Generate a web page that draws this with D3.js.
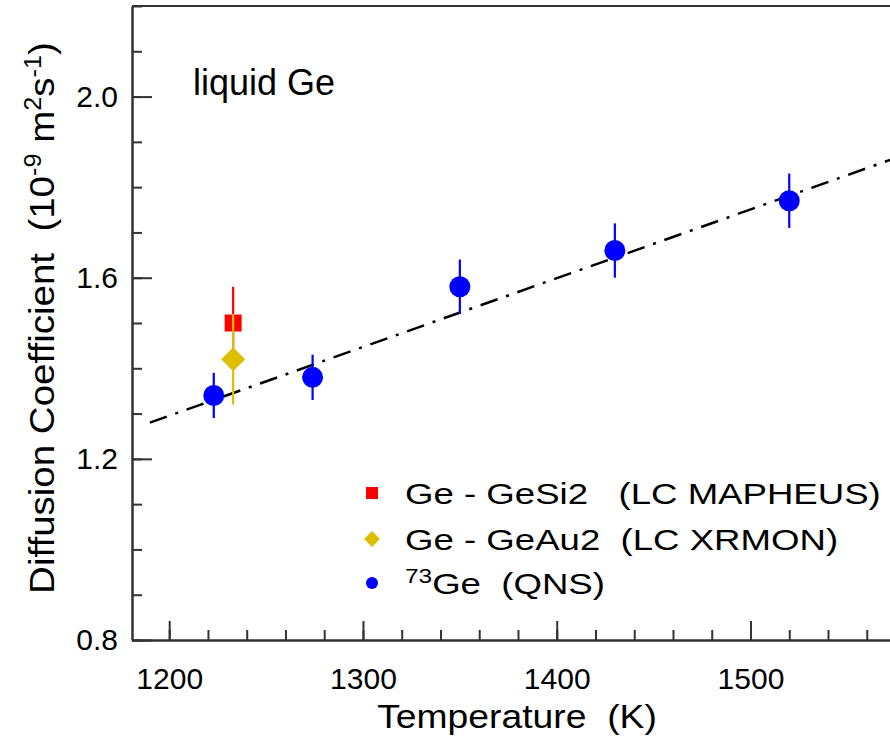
<!DOCTYPE html>
<html>
<head>
<meta charset="utf-8">
<script src="https://cdn.jsdelivr.net/npm/d3@7"></script>
<style>
	body { margin: 0; background: #fff; }
	svg text { font-family: "Liberation Sans", Arial, Helvetica, sans-serif; fill: #000; white-space: pre; }
</style>
</head>
<body>
<svg id="chart"></svg>
<script>
// 73Ge quasielastic neutron scattering
const qnsT = [1223, 1274, 1350, 1430, 1520];
const qnsD = [1.34, 1.38, 1.58, 1.66, 1.77];
const qnsErr = [0.05, 0.05, 0.06, 0.06, 0.06];

// long capillary, MAPHEUS
const mapheusT = [1233];
const mapheusD = [1.50];
const mapheusErr = [0.08];

// long capillary, XRMON
const xrmonT = [1233];
const xrmonD = [1.42];
const xrmonErr = [0.10];

// dash-dot fit line end points
const fitT = [1190, 1572];
const fitD = [1.28, 1.86];

const xTicks = [1200, 1300, 1400, 1500];
const xMinor = d3.range(1200, 1580, 20);
const yTicks = [0.8, 1.2, 1.6, 2.0];
const yMinor = d3.range(8, 23).map(d => d / 10);

const width = 890, height = 738;
const margin = { top: 6, right: 0, bottom: 98, left: 132 };

const svg = d3.select('#chart')
	.attr('width', width)
	.attr('height', height);

const x = d3.scaleLinear()
	.domain([1180.8, 1572]).range([margin.left, width - margin.right]);
const y = d3.scaleLinear()
	.domain([0.8, 2.2]).range([height - margin.bottom, margin.top]);

const axisColor = '#333';

svg.append('clipPath').attr('id', 'plot-clip')
	.append('rect')
	.attr('x', margin.left).attr('y', margin.top)
	.attr('width', width - margin.left - margin.right)
	.attr('height', height - margin.top - margin.bottom);

// axes
svg.append('g')
	.attr('transform', `translate(0,${y(0.8)})`)
	.call(d3.axisBottom(x).tickValues(xTicks).tickSize(-19).tickSizeOuter(0).tickPadding(28).tickFormat(d3.format('d')));
svg.append('g')
	.attr('transform', `translate(0,${y(0.8)})`)
	.call(d3.axisBottom(x).tickValues(xMinor).tickSize(-10).tickSizeOuter(0).tickFormat(''));

svg.append('g')
	.attr('transform', `translate(${x.range()[0]},0)`)
	.call(d3.axisLeft(y).tickValues(yTicks).tickSize(-20).tickSizeOuter(0).tickPadding(14).tickFormat(d3.format('.1f')));
svg.append('g')
	.attr('transform', `translate(${x.range()[0]},0)`)
	.call(d3.axisLeft(y).tickValues(yMinor).tickSize(-10).tickSizeOuter(0).tickFormat(''));

svg.selectAll('.domain, .tick line')
	.attr('stroke', axisColor)
	.attr('stroke-width', 2);
svg.selectAll('.tick text')
	.attr('font-size', 30)
	.attr('fill', '#000');

// top frame
svg.append('line')
	.attr('x1', x.range()[0]).attr('x2', x.range()[1])
	.attr('y1', y(2.2)).attr('y2', y(2.2))
	.attr('stroke', axisColor)
	.attr('stroke-width', 2);

// axis titles (the original lettering is a little wider than Liberation Sans)
svg.append('text')
	.attr('transform', `translate(517,728) scale(1.13,1)`)
	.attr('text-anchor', 'middle')
	.attr('font-size', 33)
	.text('Temperature  (K)');

const yTitle = svg.append('text')
	.attr('transform', `translate(54,318) rotate(-90) scale(1.1,1)`)
	.attr('text-anchor', 'middle')
	.attr('font-size', 35);
yTitle.append('tspan').text('Diffusion Coefficient  (10');
yTitle.append('tspan').attr('dy', -13).attr('font-size', 23).text('-9');
yTitle.append('tspan').attr('dy', 13).text(' m');
yTitle.append('tspan').attr('dy', -13).attr('font-size', 23).text('2');
yTitle.append('tspan').attr('dy', 13).text('s');
yTitle.append('tspan').attr('dy', -13).attr('font-size', 23).text('-1');
yTitle.append('tspan').attr('dy', 13).text(')');

svg.append('text')
	.attr('x', 193).attr('y', 95)
	.attr('font-size', 36)
	.text('liquid Ge');

// fit line
const plot = svg.append('g').attr('clip-path', 'url(#plot-clip)');

plot.append('path')
	.datum(fitT.map((t, i) => [t, fitD[i]]))
	.attr('d', d3.line().x(d => x(d[0])).y(d => y(d[1])))
	.attr('fill', 'none')
	.attr('stroke', '#000')
	.attr('stroke-width', 2.5)
	.attr('stroke-dasharray', '18,9,3,9');

const errorBars = (g, T, D, E, color) => {
	g.selectAll(null)
		.data(T.map((t, i) => ({ t, d: D[i], e: E[i] })))
		.enter()
		.append('line')
		.attr('x1', d => x(d.t)).attr('x2', d => x(d.t))
		.attr('y1', d => y(d.d - d.e)).attr('y2', d => y(d.d + d.e))
		.attr('stroke', color)
		.attr('stroke-width', 2.2);
};

const blue = '#0000ff';
const red = '#ff0000';
const gold = '#dcbf00';

// QNS
errorBars(plot, qnsT, qnsD, qnsErr, blue);
plot.selectAll(null)
	.data(qnsT.map((t, i) => [t, qnsD[i]]))
	.enter()
	.append('circle')
	.attr('cx', d => x(d[0])).attr('cy', d => y(d[1]))
	.attr('r', 10.5)
	.attr('fill', blue);

// MAPHEUS
errorBars(plot, mapheusT, mapheusD, mapheusErr, red);
plot.selectAll(null)
	.data(mapheusT.map((t, i) => [t, mapheusD[i]]))
	.enter()
	.append('rect')
	.attr('x', d => x(d[0]) - 8.5).attr('y', d => y(d[1]) - 8.5)
	.attr('width', 17).attr('height', 17)
	.attr('fill', red);

// XRMON
errorBars(plot, xrmonT, xrmonD, xrmonErr, gold);
plot.selectAll(null)
	.data(xrmonT.map((t, i) => [t, xrmonD[i]]))
	.enter()
	.append('path')
	.attr('transform', d => `translate(${x(d[0])},${y(d[1])})`)
	.attr('d', 'M0,-12L12,0L0,12L-12,0Z')
	.attr('fill', gold);

// legend
const legend = svg.append('g');
const legendRows = [493, 539, 583];

legend.append('rect')
	.attr('x', 366).attr('y', legendRows[0] - 6)
	.attr('width', 12).attr('height', 12)
	.attr('fill', red);
legend.append('path')
	.attr('transform', `translate(372,${legendRows[1]})`)
	.attr('d', 'M0,-8L8,0L0,8L-8,0Z')
	.attr('fill', gold);
legend.append('circle')
	.attr('cx', 372).attr('cy', legendRows[2])
	.attr('r', 6)
	.attr('fill', blue);

const legendText = (row) => legend.append('text')
	.attr('transform', `translate(405,${legendRows[row] + 11}) scale(1.22,1)`)
	.attr('font-size', 30);

legendText(0).text('Ge - GeSi2   (LC MAPHEUS)');
legendText(1).text('Ge - GeAu2  (LC XRMON)');
const qnsLabel = legendText(2);
qnsLabel.append('tspan').attr('dy', -11).attr('font-size', 20).text('73');
qnsLabel.append('tspan').attr('dy', 11).text('Ge  (QNS)');
</script>
</body>
</html>
